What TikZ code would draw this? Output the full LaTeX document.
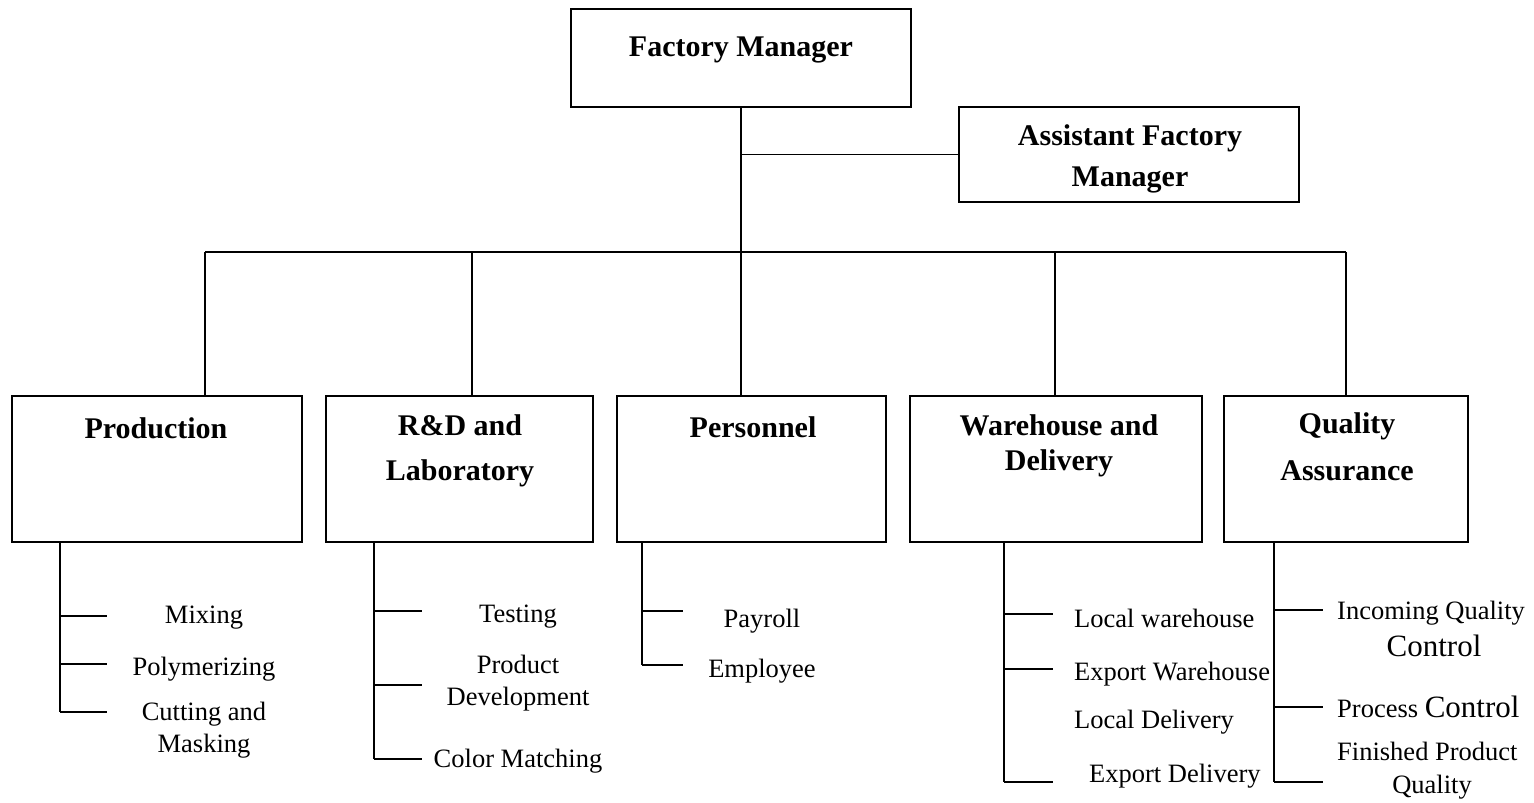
\documentclass[tikz,border=0pt]{standalone}
\usepackage{fontspec}
\setmainfont{Liberation Serif}
\begin{document}
\begin{tikzpicture}[x=1pt,y=-1pt,
  box/.style={draw, line width=1.5pt, inner sep=0pt},
  ln/.style={line width=1.2pt},
  ttl/.style={font=\fontsize{30}{36}\selectfont\bfseries, anchor=base, inner sep=0pt},
  sub/.style={font=\fontsize{26.5}{30}\selectfont, anchor=base, inner sep=0pt},
  subl/.style={sub, anchor=base west},
  big/.style={font=\fontsize{31}{34}\selectfont, anchor=base, inner sep=0pt}]
\useasboundingbox (0,0) rectangle (1534,803);

% boxes
\node[box, minimum width=340pt, minimum height=98pt] (fm) at (741,58) {};
\node[box, minimum width=340pt, minimum height=95pt] (asst) at (1129,154.5) {};
\node[box, minimum width=290pt, minimum height=146pt] (prod) at (157,469) {};
\node[box, minimum width=267pt, minimum height=146pt] (rd) at (459.5,469) {};
\node[box, minimum width=269pt, minimum height=146pt] (pers) at (751.5,469) {};
\node[box, minimum width=292pt, minimum height=146pt] (wh) at (1056,469) {};
\node[box, minimum width=244pt, minimum height=146pt] (qa) at (1346,469) {};

% titles
\node[ttl] (fmT) at (741,56) {Factory Manager};
\node[ttl] (asstT1) at (1130,145) {Assistant Factory};
\node[ttl] (asstT2) at (1130,186) {Manager};
\node[ttl] (prodT) at (156,438) {Production};
\node[ttl] (rdT1) at (460,435) {R\&D and};
\node[ttl] (rdT2) at (460,480) {Laboratory};
\node[ttl] (persT) at (753,437) {Personnel};
\node[ttl] (whT1) at (1059,435) {Warehouse and};
\node[ttl] (whT2) at (1059,470) {Delivery};
\node[ttl] (qaT1) at (1347,433) {Quality};
\node[ttl] (qaT2) at (1347,480) {Assurance};

% top connectors
\coordinate (j0) at (fm.south |- asst.west);
\draw[ln] (fm.south) -- (fm.south |- pers.north);
\draw[ln] (j0) -- (asst.west);
\coordinate (b1) at (205,252);
\coordinate (b2) at (472,252);
\coordinate (b4) at (1055,252);
\coordinate (b5) at (1346,252);
\draw[ln] (b1) -- (b5);
\draw[ln] (b1) -- (b1 |- prod.north);
\draw[ln] (b2) -- (b2 |- rd.north);
\draw[ln] (b4) -- (b4 |- wh.north);
\draw[ln] (b5) -- (b5 |- qa.north);

% Production subtree
\coordinate (p1) at (60,616); \coordinate (p2) at (60,664); \coordinate (p3) at (60,712);
\coordinate (pe1) at (107,616); \coordinate (pe2) at (107,664); \coordinate (pe3) at (107,712);
\draw[ln] (p1 |- prod.south) -- (p3);
\draw[ln] (p1) -- (pe1); \draw[ln] (p2) -- (pe2); \draw[ln] (p3) -- (pe3);
\node[sub] (mix) at (204,623) {Mixing};
\node[sub] (poly) at (204,675) {Polymerizing};
\node[sub] (cut1) at (204,720) {Cutting and};
\node[sub] (cut2) at (204,752) {Masking};

% R&D subtree
\coordinate (r1) at (374,611); \coordinate (r2) at (374,685); \coordinate (r3) at (374,759);
\coordinate (re1) at (422,611); \coordinate (re2) at (422,685); \coordinate (re3) at (422,759);
\draw[ln] (r1 |- rd.south) -- (r3);
\draw[ln] (r1) -- (re1); \draw[ln] (r2) -- (re2); \draw[ln] (r3) -- (re3);
\node[sub] (test) at (518,622) {Testing};
\node[sub] (pd1) at (518,673) {Product};
\node[sub] (pd2) at (518,705) {Development};
\node[sub] (color) at (518,767) {Color Matching};

% Personnel subtree
\coordinate (s1) at (642,611); \coordinate (s2) at (642,665);
\coordinate (se1) at (683,611); \coordinate (se2) at (683,665);
\draw[ln] (s1 |- pers.south) -- (s2);
\draw[ln] (s1) -- (se1); \draw[ln] (s2) -- (se2);
\node[sub] (pay) at (762,627) {Payroll};
\node[sub] (emp) at (762,677) {Employee};

% Warehouse subtree
\coordinate (w1) at (1004,614); \coordinate (w2) at (1004,669); \coordinate (w3) at (1004,782);
\coordinate (we1) at (1053,614); \coordinate (we2) at (1053,669); \coordinate (we3) at (1053,782);
\draw[ln] (w1 |- wh.south) -- (w3);
\draw[ln] (w1) -- (we1); \draw[ln] (w2) -- (we2); \draw[ln] (w3) -- (we3);
\node[subl] (lw) at (1074,627) {Local warehouse};
\node[subl] (ew) at (1074,680) {Export Warehouse};
\node[subl] (ld) at (1074,728) {Local Delivery};
\node[subl] (ed) at (1089,782) {Export Delivery};

% QA subtree
\coordinate (q1) at (1274,610); \coordinate (q2) at (1274,707); \coordinate (q3) at (1274,782);
\coordinate (qe1) at (1323,610); \coordinate (qe2) at (1323,707); \coordinate (qe3) at (1323,782);
\draw[ln] (q1 |- qa.south) -- (q3);
\draw[ln] (q1) -- (qe1); \draw[ln] (q2) -- (qe2); \draw[ln] (q3) -- (qe3);
\node[subl] (iqc1) at (1337,619) {Incoming Quality};
\node[big] (iqc2) at (1434,656) {Control};
\node[subl] (pc) at (1337,717) {Process {\fontsize{31}{34}\selectfont Control}};
\node[subl] (fpq1) at (1337,760) {Finished Product};
\node[sub] (fpq2) at (1432,793) {Quality};
\end{tikzpicture}
\end{document}
